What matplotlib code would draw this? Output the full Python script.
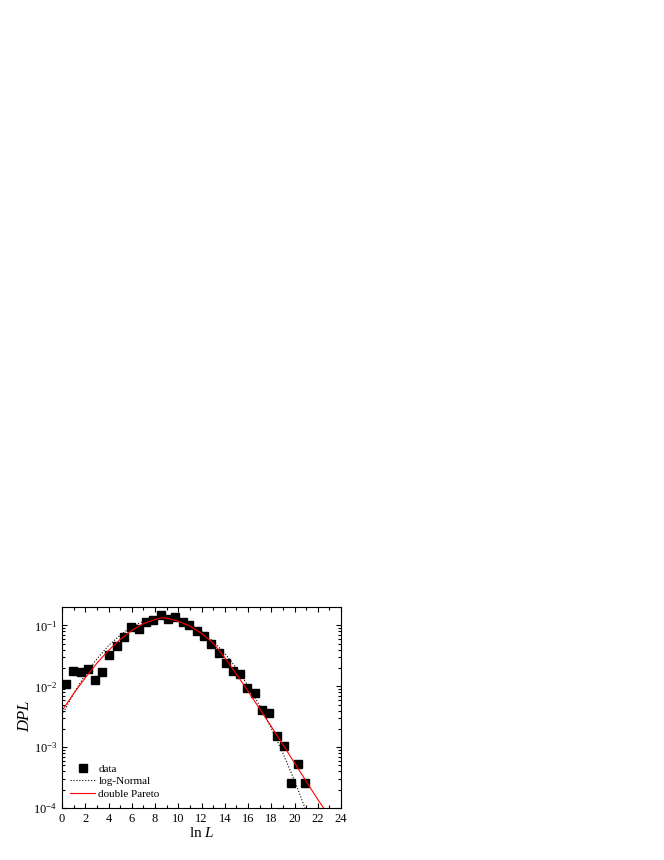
import numpy as np
import matplotlib
matplotlib.use('Agg')
import matplotlib.pyplot as plt
from matplotlib.ticker import LogLocator, LogFormatterMathtext, MultipleLocator

plt.rcParams['font.family'] = ['Liberation Serif', 'DejaVu Serif']
plt.rcParams['mathtext.fontset'] = 'custom'
plt.rcParams['mathtext.rm'] = 'Liberation Serif'
plt.rcParams['mathtext.it'] = 'Liberation Serif:italic'

# measured distribution
lnL = [0.34, 0.97, 1.6, 2.27, 2.87, 3.47, 4.07, 4.7, 5.33, 5.96, 6.6, 7.23,
       7.86, 8.49, 9.12, 9.75, 10.38, 10.95, 11.58, 12.2, 12.85, 13.48, 14.1,
       14.74, 15.31, 15.94, 16.57, 17.18, 17.8, 18.47, 19.07, 19.7, 20.27, 20.93]
dpl = [0.011, 0.0179, 0.017, 0.0196, 0.0129, 0.017, 0.0325, 0.0458, 0.0645,
       0.094, 0.088, 0.116, 0.122, 0.146, 0.13, 0.137, 0.116, 0.101, 0.080,
       0.067, 0.0498, 0.035, 0.0243, 0.0177, 0.016, 0.0095, 0.0078, 0.0041,
       0.0036, 0.00155, 0.00104, 0.00026, 0.00052, 0.00026]

# fitted curves (log10 of DPL)
fit_x = [0, 1, 2, 3, 4, 5, 6, 7, 8, 8.6, 9, 10, 11, 12, 13, 14, 15, 16, 17,
         18, 19, 20, 21, 22, 22.5]
pareto_log = [-2.40, -2.12, -1.86, -1.62, -1.41, -1.23, -1.08, -0.97, -0.90,
              -0.875, -0.88, -0.93, -1.01, -1.13, -1.29, -1.53, -1.80, -2.08,
              -2.37, -2.66, -2.96, -3.26, -3.56, -3.86, -4.0]
ln_x = [0, 1, 2, 3, 4, 5, 6, 7, 8, 9, 10, 11, 12, 13, 14, 15, 16, 17, 18,
        19, 20, 21]
lognorm_log = [-2.47, -2.12, -1.81, -1.55, -1.33, -1.16, -1.02, -0.93, -0.88,
               -0.87, -0.91, -0.98, -1.10, -1.26, -1.46, -1.70, -1.99, -2.32,
               -2.69, -3.10, -3.55, -4.05]

fig = plt.figure(figsize=(6.64, 8.6), dpi=100)
ax = fig.add_axes([0.0934, 0.0605, 0.4202, 0.2335])

ax.plot(lnL, dpl, 's', color='black', markersize=5.5, label='data')
ax.plot(ln_x, 10 ** np.array(lognorm_log), ':', color='black', lw=0.8,
        label='log-Normal')
ax.plot(fit_x, 10 ** np.array(pareto_log), '-', color='red', lw=0.8,
        label='double Pareto')

ax.set_yscale('log')
ax.set_xlim(0, 24)
ax.set_ylim(1e-4, 0.2)
ax.xaxis.set_major_locator(MultipleLocator(2))
ax.xaxis.set_minor_locator(MultipleLocator(1))
ax.yaxis.set_major_locator(LogLocator(base=10, numticks=10))
ax.yaxis.set_minor_locator(LogLocator(base=10, subs=np.arange(2, 10), numticks=10))
ax.yaxis.set_major_formatter(LogFormatterMathtext())
ax.tick_params(which='both', direction='in', top=True, right=True,
               labelsize=9, width=0.8)
ax.tick_params(which='major', length=3.5)
ax.tick_params(which='minor', length=2)

ax.set_xlabel(r'ln $\mathit{L}$', fontsize=11, labelpad=1)
ax.set_ylabel('DPL', fontsize=12, style='italic')
ax.yaxis.set_label_coords(-0.104, 0.458)

ax.legend(loc='lower left', frameon=False, fontsize=8, handlelength=2.25,
          handletextpad=0.3, labelspacing=0.25, borderaxespad=0.0,
          bbox_to_anchor=(0.013, 0.023))

fig.savefig('out.png', dpi=100)
